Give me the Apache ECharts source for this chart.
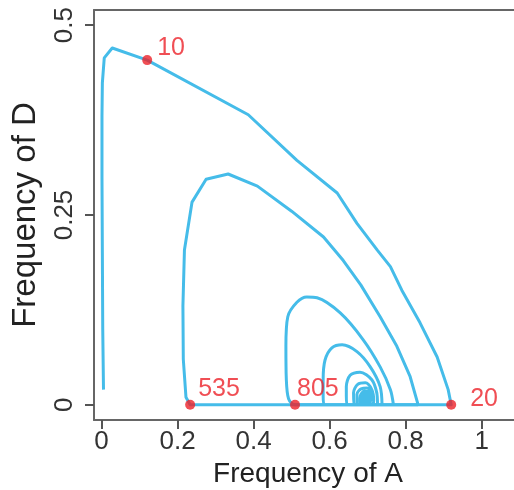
<!DOCTYPE html>
<html>
<head>
<meta charset="utf-8">
<script src="https://cdn.jsdelivr.net/npm/echarts@6/dist/echarts.min.js"></script>
<style>
html,body{margin:0;padding:0;background:#fff;}
#chart{width:514px;height:490px;}
</style>
</head>
<body>
<div id="chart"></div>
<script>
// Trajectory: frequency of A (x) and frequency of D (y)
const trajA = [
  0.005,0.003,0.002,0.001,0.001,0.002,0.007,0.028,0.120,0.386,0.514,0.620,0.672,0.725,0.760,0.790,0.838,0.883,0.912,0.920,
  0.233,
  0.222,0.215,0.214,0.218,0.238,0.275,0.333,0.410,0.500,0.584,0.636,0.682,0.733,0.777,0.812,0.833,
  0.509,
  0.492,0.486,0.485,0.490,0.514,0.540,0.567,0.628,0.688,0.733,0.760,0.768,
  0.586,
  0.583,0.583,0.588,0.606,0.633,0.672,0.707,0.733,0.738,
  0.646,
  0.644,0.644,0.654,0.680,0.711,0.724,0.726,
  0.664,
  0.663,0.674,0.694,0.711,0.716,0.713,0.672,
  0.672,0.683,0.699,0.709,0.708,0.680,
  0.681,0.691,0.702,0.705,0.704,0.686,
  0.686,0.694,0.702,0.703,0.690,
  0.690,0.697,0.701,0.700,0.693,0.694,0.698,0.698
];
const trajD = [
  0.020,0.100,0.200,0.300,0.380,0.424,0.457,0.470,0.454,0.382,0.322,0.279,0.239,0.204,0.182,0.151,0.108,0.063,0.020,0.000,
  0.000,
  0.010,0.060,0.130,0.204,0.267,0.297,0.304,0.288,0.255,0.221,0.190,0.158,0.116,0.077,0.037,0.000,
  0.000,
  0.008,0.035,0.077,0.116,0.135,0.142,0.141,0.121,0.086,0.050,0.020,0.000,
  0.000,
  0.012,0.033,0.059,0.075,0.079,0.070,0.050,0.024,0.000,
  0.000,
  0.012,0.024,0.039,0.043,0.033,0.016,0.000,
  0.000,
  0.016,0.027,0.029,0.020,0.006,0.001,0.002,
  0.014,0.021,0.022,0.013,0.004,0.004,
  0.012,0.018,0.017,0.010,0.005,0.005,
  0.011,0.015,0.014,0.008,0.006,
  0.010,0.013,0.012,0.008,0.008,0.011,0.010
];
// Marked time points
const markNames = ['10','535','805','20'];
const markA = [0.120,0.233,0.509,0.920];
const markD = [0.454,0.000,0.000,0.000];
// Axis ticks
const xTicks = [0,0.2,0.4,0.6,0.8,1];
const xTickLabels = ['0','0.2','0.4','0.6','0.8','1'];
const yTicks = [0,0.25,0.5];
const yTickLabels = ['0','0.25','0.5'];
const xTitle = 'Frequency of A';
const yTitle = 'Frequency of D';

const FONT = '"Liberation Sans", Arial, Helvetica, sans-serif';
const BLUE = '#45bce9';
const RED = '#ec2229';
const FRAME = '#666';
const labelOffsets = {'10':[5,-12],'535':[3,-16],'805':[-3,-16],'20':[14,-6]};
const SPLIT = 37; // early (coarsely sampled) part of the trajectory vs. later (finely sampled) part
const X_MIN = -0.02, X_MAX = 1.1063, Y_MIN = -0.02, Y_MAX = 0.52;

const allPts = trajA.map((a,i)=>[a,trajD[i]]);
const earlyPts = allPts.slice(0, SPLIT);
const latePts = allPts.slice(SPLIT-1);
const markData = markNames.map((n,i)=>({
  name:n, value:[markA[i],markD[i]],
  label:{offset:labelOffsets[n]}
}));
const fmt = (ticks,labels)=> (v)=>{
  for(let i=0;i<ticks.length;i++){ if(Math.abs(ticks[i]-v)<1e-9) return labels[i]; }
  return '';
};

const chart = echarts.init(document.getElementById('chart'), null, {renderer:'canvas'});
chart.setOption({
  animation:false,
  backgroundColor:'#fff',
  grid:{left:94, top:10, right:-8, bottom:70, show:false, containLabel:false, outerBoundsMode:'none'},
  xAxis:[{
    type:'value', min:X_MIN, max:X_MAX, position:'bottom',
    name:xTitle, nameLocation:'middle', nameGap:37,
    nameTextStyle:{fontFamily:FONT, fontSize:28, color:'#222'},
    axisLine:{show:true, onZero:false, lineStyle:{color:FRAME, width:2}},
    splitLine:{show:false},
    axisTick:{show:true, customValues:xTicks, length:9, lineStyle:{color:'#555', width:2}},
    axisLabel:{customValues:xTicks, formatter:fmt(xTicks,xTickLabels), margin:9, fontFamily:FONT, fontSize:26, color:'#333'}
  },{
    type:'value', min:X_MIN, max:X_MAX, position:'top',
    axisLine:{show:true, onZero:false, lineStyle:{color:FRAME, width:2}},
    splitLine:{show:false}, axisTick:{show:false}, axisLabel:{show:false}
  }],
  yAxis:{
    type:'value', min:Y_MIN, max:Y_MAX,
    name:yTitle, nameLocation:'middle', nameGap:52,
    nameTextStyle:{fontFamily:FONT, fontSize:33, color:'#222'},
    axisLine:{show:true, onZero:false, lineStyle:{color:FRAME, width:2}},
    splitLine:{show:false},
    axisTick:{show:true, customValues:yTicks, length:9, lineStyle:{color:'#555', width:2}},
    axisLabel:{customValues:yTicks, formatter:fmt(yTicks,yTickLabels), rotate:90, margin:16, fontFamily:FONT, fontSize:26, color:'#333'}
  },
  series:[
    {
      type:'line', xAxisIndex:0, data:earlyPts, smooth:false, showSymbol:false, symbol:'none',
      lineStyle:{color:BLUE, width:3, join:'round'}, z:2
    },
    {
      type:'line', xAxisIndex:0, data:latePts, smooth:0.3, showSymbol:false, symbol:'none',
      lineStyle:{color:BLUE, width:3}, z:2
    },
    {
      type:'scatter', xAxisIndex:0, data:markData, symbolSize:10,
      itemStyle:{color:RED},
      label:{show:true, position:'right', distance:0, formatter:'{b}', color:RED, fontFamily:FONT, fontSize:25},
      z:3
    }
  ]
});
</script>
</body>
</html>
